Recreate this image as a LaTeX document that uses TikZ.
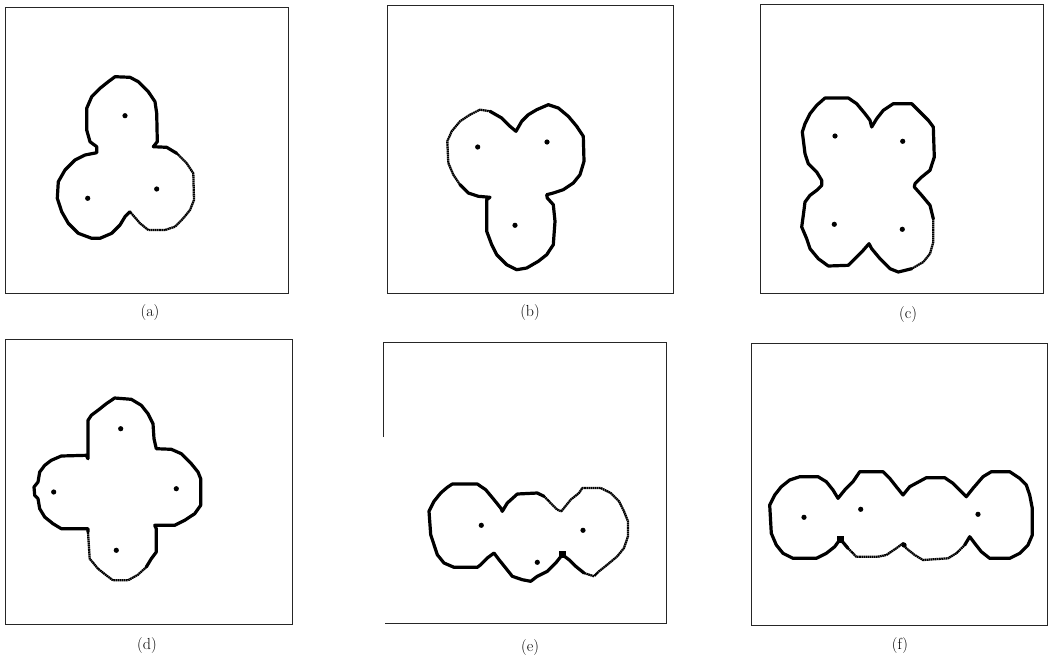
\documentclass[tikz,border=0pt]{standalone}
\begin{document}
\begin{tikzpicture}[x=1pt,y=-1pt,
  frame/.style={draw=black!85, line width=1pt},
  heavy/.style={draw=black, line width=3.2pt, line join=round, line cap=round},
  light/.style={draw=black, line width=2.3pt, line join=round, dash pattern=on 1.6pt off 0.5pt},
  hub/.style={fill=black},
  caption/.style={font=\fontsize{16}{18}\selectfont, inner sep=0pt}]
\useasboundingbox (0,0) rectangle (1049,662);

% ---------- frames ----------
\draw[frame] (5,7) rectangle (288,293);
\draw[frame] (387,5) rectangle (673,293);
\draw[frame] (760,4) rectangle (1043,293);
\draw[frame] (5,339) rectangle (292,624);
\draw[frame] (383,437) -- (383,342) -- (666,342) -- (666,623) -- (385,623);
\draw[frame] (751,343) rectangle (1047,625);

% ---------- captions ----------
\node[caption] (ca) at (150,313) {(a)};
\node[caption] (cb) at (530,313) {(b)};
\node[caption] (cc) at (908,315) {(c)};
\node[caption] (cd) at (147,645) {(d)};
\node[caption] (ce) at (530,647) {(e)};
\node[caption] (cf) at (900,645) {(f)};

% ---------- (a) three lobes ----------
\draw[heavy] (130,211.7) -- (125,216.7) -- (120,225) -- (111.7,233.3) -- (100,238.3) -- (91.7,238.3)
  -- (78.3,233.3) -- (68.3,223.3) -- (61.7,211.7) -- (57.3,198.3) -- (58.3,181.7) -- (65,170)
  -- (75,160) -- (85,155) -- (96.7,152.7) -- (96.7,146.7) -- (90,141.7) -- (86.7,130) -- (86.7,108.3)
  -- (91.7,96.7) -- (100,88.3) -- (108.3,81.7) -- (115,76.7) -- (130,77.3) -- (138.3,81.7)
  -- (148.3,91.7) -- (155,101.7) -- (156.7,113.3) -- (157.3,141.7) -- (153.3,146.7) -- (166.7,147.3)
  -- (176.7,153.3);
\draw[light] (176.7,153.3) -- (186.7,163.3) -- (193.3,173.3) -- (194,200) -- (190,210) -- (183.3,218.3)
  -- (175,226.7) -- (165,230) -- (148.3,230) -- (140,223.3) -- (130,211.7);
\fill[hub] (125,115.7) circle (2.6);
\fill[hub] (156.7,189) circle (2.6);
\fill[hub] (87.7,198.3) circle (2.6);

% ---------- (b) three lobes ----------
\draw[heavy] (490,111.3) -- (501.7,118) -- (510,126.3) -- (516,131.3) -- (521.7,121.3) -- (528.3,114.7)
  -- (536.7,109.7) -- (548.3,104.7) -- (558.3,108) -- (568.3,116.3) -- (576.7,126.3) -- (583.3,136.3)
  -- (584,161.3) -- (580,174.7) -- (573.3,183) -- (563.3,189.7) -- (553.3,193) -- (546.7,194.7)
  -- (547.3,198) -- (553.3,204.7) -- (555,221.3) -- (553.3,244.7) -- (546.7,254.7) -- (538.3,261.3)
  -- (526.7,268) -- (516.7,269.7) -- (506.7,264.7) -- (496.7,254.7) -- (491.7,244.7) -- (486.7,231.3)
  -- (486.7,199.7) -- (490,197.3) -- (478.3,196.3) -- (468.3,193) -- (460,184.7);
\draw[light] (460,184.7) -- (453.3,174.7) -- (448.3,163) -- (447.3,141.3) -- (451.7,131.3) -- (460,121.3)
  -- (470,114.7) -- (480,109.7) -- (490,111.3);
\fill[hub] (477.7,147) circle (2.6);
\fill[hub] (547,142) circle (2.6);
\fill[hub] (515,225.3) circle (2.6);

% ---------- (c) four lobes ----------
\draw[heavy] (911.7,268.7) -- (898.3,272) -- (890,268.7) -- (880,258.7) -- (871.7,248.7) -- (869,243.7)
  -- (861.7,252) -- (853.3,260.3) -- (848.3,265.3) -- (828.3,266) -- (818.3,258.7) -- (810,248.7)
  -- (806.7,238.7) -- (801.7,227) -- (803.3,215.3) -- (805,202) -- (810,195.3) -- (816.7,190.3)
  -- (821.7,185.3) -- (821.7,180.3) -- (816.7,172) -- (808.3,163.7) -- (805,153.7) -- (802.3,132)
  -- (805,123.7) -- (810,113.7) -- (816.7,105.3) -- (825,98) -- (848.3,98) -- (856.7,103.7)
  -- (865,113.7) -- (870,120.3) -- (871.7,127) -- (876.7,118.7) -- (883.3,110.3) -- (893.3,103.7)
  -- (911.7,103.7) -- (920,112) -- (928.3,120.3) -- (933.3,127) -- (934.3,157) -- (930,170.3)
  -- (921.7,177) -- (915,183.7) -- (914.3,187) -- (921.7,195.3) -- (930,205.3) -- (933.3,218.7);
\draw[light] (933.3,218.7) -- (933.3,242) -- (930,253.7) -- (923.3,262) -- (911.7,268.7);
\fill[hub] (835,136) circle (2.6);
\fill[hub] (902.7,141.3) circle (2.6);
\fill[hub] (834.3,224.3) circle (2.6);
\fill[hub] (902.3,229.3) circle (2.6);

% ---------- (d) cross of four lobes ----------
\draw[heavy] (88,532) -- (88,528.7) -- (61.3,528.7) -- (53,523.7) -- (44.7,517) -- (39.7,508.7)
  -- (38,498.7) -- (34.7,495.3) -- (34,487) -- (38,482) -- (39.7,472) -- (44.7,465.3) -- (51.3,460.3)
  -- (61.3,456) -- (86.3,455.3) -- (88,458.7) -- (88,420.3) -- (91.3,415.3) -- (98,410.3)
  -- (106.3,403.7) -- (114.7,398) -- (131.3,399.3) -- (141.3,405.3) -- (148,413.7) -- (153,423.7)
  -- (154,438.7) -- (156.3,448.7) -- (171.3,449.3) -- (181.3,453.7) -- (191.3,463.7) -- (198,472)
  -- (200.7,478.7) -- (200.7,505.3) -- (194.7,513.7) -- (184.7,520.3) -- (174.7,525.3)
  -- (154.7,525.3) -- (156.3,528.7) -- (156.3,552) -- (151.3,558.7) -- (146.3,567);
\draw[light] (146.3,567) -- (138,574.7) -- (128,580.3) -- (113,580.3) -- (106.3,575.3) -- (98,568.7)
  -- (89.7,558.7) -- (88,532);
\fill[hub] (120.7,428.7) circle (2.6);
\fill[hub] (53.7,492) circle (2.6);
\fill[hub] (176.3,488.7) circle (2.6);
\fill[hub] (116.3,550.3) circle (2.6);

% ---------- (e) row of three lobes ----------
\draw[heavy] (584,573) -- (575.7,566.3) -- (569,559.7) -- (562.3,554.7) -- (555.7,563) -- (547.3,571.3)
  -- (537.3,576.3) -- (530.7,581.3) -- (522.3,579.7) -- (512.3,576.3) -- (505.7,568) -- (499,559.7)
  -- (494,553) -- (487.3,558) -- (480.7,564.7) -- (477.3,567.3) -- (454,567.3) -- (444,563)
  -- (437.3,554.7) -- (434,544.7) -- (430.7,534.7) -- (429,511.3) -- (434,501.3) -- (440.7,493)
  -- (447.3,487.3) -- (452.3,484) -- (477.3,484) -- (485.7,489.7) -- (494,499.7) -- (500.7,508)
  -- (502.3,511.3) -- (507.3,503) -- (517.3,494) -- (537.3,493) -- (544,496.3);
\draw[light] (544,496.3) -- (552.3,504.7) -- (557.3,509.7) -- (561.3,511.3) -- (570.7,499.7) -- (579,493)
  -- (582.3,488) -- (600.7,488) -- (610.7,493) -- (619,501.3) -- (624,511.3) -- (628,521.3)
  -- (628,536.3) -- (624,548) -- (617.3,556.3) -- (607.3,564.7) -- (599,571.3) -- (594,576.3)
  -- (584,573);
\fill[hub] (558.8,551.2) rectangle (565.8,558.2);
\fill[hub] (481.3,525.3) circle (2.6);
\fill[hub] (583,530.3) circle (2.6);
\fill[hub] (537.3,562.3) circle (2.6);

% ---------- (f) row of four lobes ----------
\draw[heavy] (964.7,545) -- (969.7,536.7) -- (974.7,543.3) -- (981.3,551.7) -- (989.7,558.3)
  -- (1009.7,558.3) -- (1019.7,553.3) -- (1028,545) -- (1032.3,535) -- (1032.3,508.3) -- (1029.7,495)
  -- (1026.3,485) -- (1019.7,478.3) -- (1009.7,471.7) -- (991.3,471.7) -- (983,476.7) -- (973,488.3)
  -- (966.3,496.7) -- (959.7,490) -- (953,483.3) -- (944.7,477.7) -- (926.3,477.7) -- (909.7,486.7)
  -- (903,495) -- (896.3,486.7) -- (889.7,478.3) -- (883,471.7) -- (859.7,471.7) -- (853,481.7)
  -- (844.7,490) -- (838,498.3) -- (833,490) -- (826.3,481.7) -- (818,476.7) -- (799.7,476.7)
  -- (789.7,480) -- (781.3,486.7) -- (774.7,495) -- (769.7,505) -- (771.3,533.3) -- (776.3,545)
  -- (783,553.3) -- (793,558.3) -- (816.3,558.3) -- (826.3,553.3) -- (834.7,546.7) -- (840.3,539)
  -- (848,548.3);
\draw[light] (848,548.3) -- (856.3,556.7) -- (878,556.7) -- (886.3,555) -- (896.3,548.3) -- (903,543.3)
  -- (906.3,548.3) -- (914.7,555) -- (923,560) -- (948,558.3) -- (956.3,553.3) -- (964.7,545);
\fill[hub] (836.8,535.5) rectangle (843.8,542.5);
\fill[hub] (804,517.3) circle (2.6);
\fill[hub] (860.7,509.3) circle (2.6);
\fill[hub] (978,514.3) circle (2.6);
\fill[hub] (904,545) circle (2.6);
\end{tikzpicture}
\end{document}
